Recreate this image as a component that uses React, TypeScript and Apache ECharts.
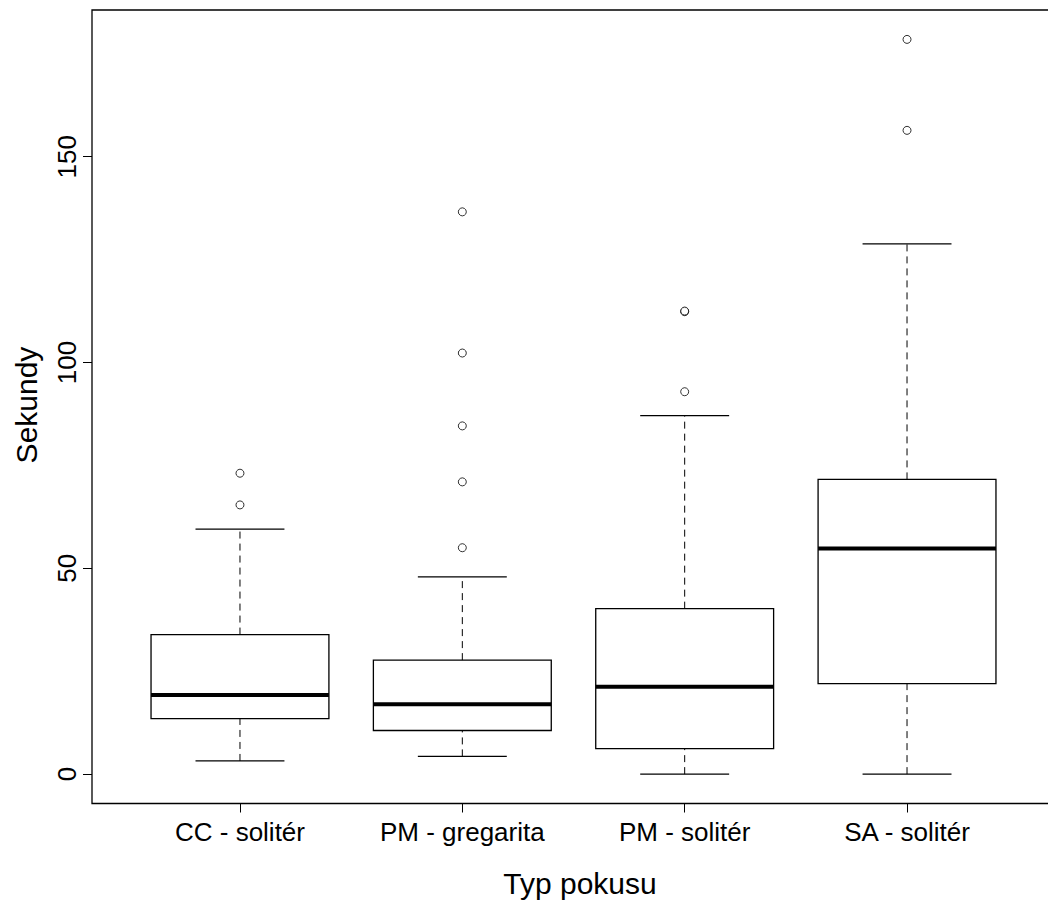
import React, { useEffect, useRef } from "react";
import * as echarts from "echarts";

const categories = ["CC - solitér", "PM - gregarita", "PM - solitér", "SA - solitér"];
const lowerWhisker = [3.2, 4.3, 0, 0];
const q1 = [13.5, 10.6, 6.2, 22.0];
const median = [19.2, 17.0, 21.2, 54.8];
const q3 = [33.9, 27.7, 40.2, 71.6];
const upperWhisker = [59.5, 47.9, 87.1, 128.8];
const outliers: number[][] = [
  [65.4, 73.1],
  [55.0, 71.0, 84.6, 102.3, 136.6],
  [92.9, 112.35, 112.5],
  [156.4, 178.5],
];
const yTicks = [0, 50, 100, 150];
const xTicks = [1, 2, 3, 4];
const yTitle = "Sekundy";
const xTitle = "Typ pokusu";

const FONT = "'Liberation Sans', Arial, Helvetica, sans-serif";

export default function App() {
  const ref = useRef<HTMLDivElement>(null);
  useEffect(() => {
    if (!ref.current) return;
    const chart = echarts.init(ref.current, undefined, { renderer: "svg" });
    const boxData = categories.map((_, i) => [
      i + 1,
      lowerWhisker[i],
      q1[i],
      median[i],
      q3[i],
      upperWhisker[i],
    ]);
    const outlierData: number[][] = [];
    outliers.forEach((arr, i) => arr.forEach((v) => outlierData.push([i + 1, v])));

    const line = (x1: number, y1: number, x2: number, y2: number, w: number, dash?: number[]) => ({
      type: "line",
      shape: { x1, y1, x2, y2 },
      style: { stroke: "#000", lineWidth: w, lineDash: dash || null, fill: null },
    });

    chart.setOption({
      animation: false,
      backgroundColor: "#fff",
      grid: {
        left: 92,
        top: 10,
        width: 963,
        height: 793.5,
        show: true,
        borderColor: "#000",
        borderWidth: 1.3,
        backgroundColor: "transparent",
      },
      xAxis: {
        type: "value",
        min: 0.3345,
        max: 4.6655,
        splitLine: { show: false },
        axisLine: { show: false, onZero: false },
        axisTick: {
          show: true,
          inside: false,
          customValues: xTicks,
          length: 9,
          lineStyle: { color: "#000", width: 1 },
        },
        axisLabel: {
          customValues: xTicks,
          formatter: (v: number) => categories[Math.round(v) - 1] || "",
          fontSize: 26,
          fontFamily: FONT,
          color: "#000",
          margin: 15,
        },
      },
      yAxis: {
        type: "value",
        min: -7.14,
        max: 185.64,
        splitLine: { show: false },
        axisLine: { show: false, onZero: false },
        axisTick: {
          show: true,
          inside: false,
          customValues: yTicks,
          length: 9,
          lineStyle: { color: "#000", width: 1 },
        },
        axisLabel: {
          customValues: yTicks,
          rotate: 90,
          fontSize: 26,
          fontFamily: FONT,
          color: "#000",
          margin: 12,
        },
      },
      graphic: [
        {
          type: "text",
          x: 580,
          y: 883,
          style: {
            text: xTitle,
            font: `30px ${FONT}`,
            fill: "#000",
            align: "center",
            verticalAlign: "middle",
          },
        },
        {
          type: "text",
          x: 26,
          y: 405,
          rotation: Math.PI / 2,
          style: {
            text: yTitle,
            font: `30px ${FONT}`,
            fill: "#000",
            align: "center",
            verticalAlign: "middle",
          },
        },
      ],
      series: [
        {
          type: "custom",
          data: boxData,
          encode: { x: 0, y: [1, 2, 3, 4, 5] },
          renderItem: (params: any, api: any) => {
            const x = api.value(0);
            const lo = api.coord([x, api.value(1)]);
            const a = api.coord([x, api.value(2)]);
            const m = api.coord([x, api.value(3)]);
            const b = api.coord([x, api.value(4)]);
            const hi = api.coord([x, api.value(5)]);
            const left = api.coord([x - 0.4, 0])[0];
            const right = api.coord([x + 0.4, 0])[0];
            const capL = api.coord([x - 0.2, 0])[0];
            const capR = api.coord([x + 0.2, 0])[0];
            const cx = lo[0];
            return {
              type: "group",
              children: [
                line(cx, lo[1], cx, a[1], 1, [7, 5]),
                line(cx, b[1], cx, hi[1], 1, [7, 5]),
                line(capL, lo[1], capR, lo[1], 1.3),
                line(capL, hi[1], capR, hi[1], 1.3),
                {
                  type: "rect",
                  shape: { x: left, y: b[1], width: right - left, height: a[1] - b[1] },
                  style: { fill: "none", stroke: "#000", lineWidth: 1.3 },
                },
                line(left, m[1], right, m[1], 4),
              ],
            };
          },
        },
        {
          type: "scatter",
          data: outlierData,
          symbol: "circle",
          symbolSize: 8,
          itemStyle: { color: "#fff", borderColor: "#000", borderWidth: 1 },
        },
      ],
    });
    return () => chart.dispose();
  }, []);
  return (
    <div
      style={{
        position: "absolute",
        left: 0,
        top: 0,
        width: 1048,
        height: 900,
        overflow: "hidden",
        background: "#fff",
      }}
    >
      <div ref={ref} style={{ width: 1070, height: 900 }} />
    </div>
  );
}
